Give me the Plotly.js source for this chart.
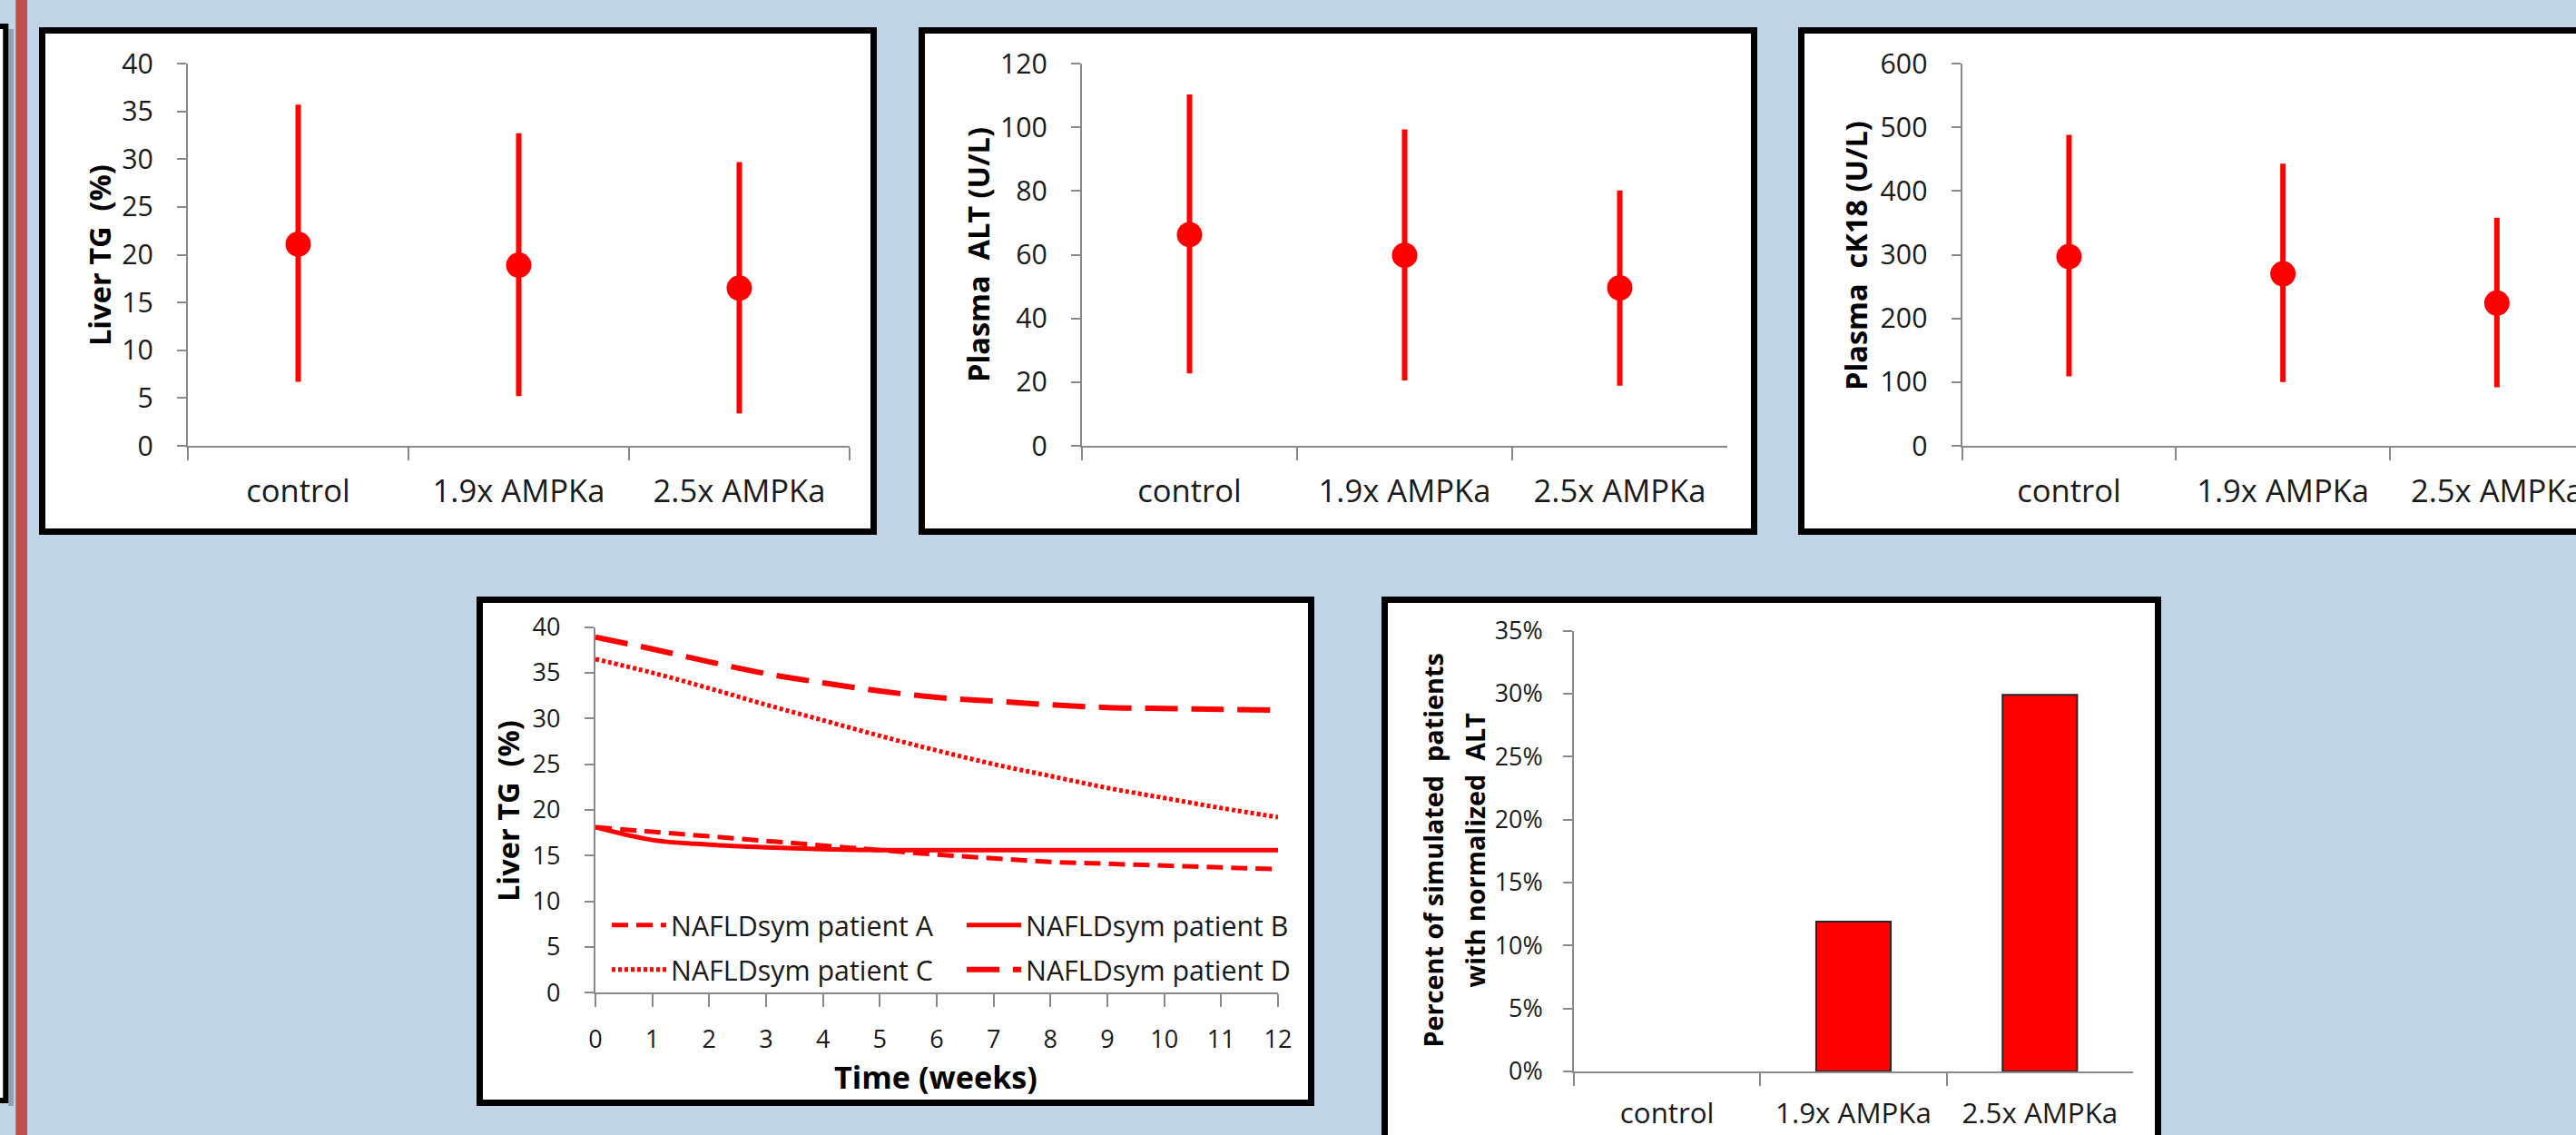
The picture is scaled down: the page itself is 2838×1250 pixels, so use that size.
<!DOCTYPE html>
<html>
<head>
<meta charset="utf-8">
<script src="https://cdn.plot.ly/plotly-3.0.1.min.js"></script>
<style>
html, body { margin: 0; padding: 0; background: #C0D4E5; overflow: hidden; }
#chart { width: 2838px; height: 1250px; }
</style>
</head>
<body>
<div id="chart"></div>
<script>
// ---------------- data ----------------
const categories = ['control', '1.9x AMPKa', '2.5x AMPKa'];

const liverTG_mean  = [21.1, 18.9, 16.5];
const liverTG_upper = [35.7, 32.7, 29.7];
const liverTG_lower = [6.7, 5.2, 3.4];

const alt_mean  = [66.3, 59.8, 49.6];
const alt_upper = [110.3, 99.3, 80.2];
const alt_lower = [22.7, 20.5, 18.9];

const ck18_mean  = [297, 270, 224];
const ck18_upper = [488, 443, 358];
const ck18_lower = [109, 100, 92];

const weeks    = [0, 1, 2, 3, 4, 5, 6, 7, 8, 9, 10, 11, 12];
const patientA = [18.1, 17.6, 17.1, 16.6, 16.1, 15.6, 15.1, 14.7, 14.3, 14.1, 13.9, 13.7, 13.5];
const patientB = [18.1, 16.7, 16.2, 15.9, 15.7, 15.6, 15.6, 15.6, 15.6, 15.6, 15.6, 15.6, 15.6];
const patientC = [36.5, 35.0, 33.3, 31.5, 29.8, 28.1, 26.5, 25.0, 23.7, 22.4, 21.3, 20.2, 19.2];
const patientD = [38.9, 37.6, 36.2, 34.9, 33.9, 33.0, 32.3, 31.9, 31.5, 31.2, 31.1, 31.0, 30.9];
const patientNames = ['NAFLDsym patient A', 'NAFLDsym patient B', 'NAFLDsym patient C', 'NAFLDsym patient D'];

const pctNormalizedALT = [0, 0.119, 0.299];

const NB = '\u00a0';
const yTitles = ['Liver TG' + NB + ' (%)', 'Plasma' + NB + ' ALT (U/L)', 'Plasma' + NB + ' cK18 (U/L)', 'Liver TG' + NB + ' (%)'];
const barTitleLines = ['Percent of simulated' + NB + ' patients', 'with normalized' + NB + ' ALT'];
const xTitle4 = 'Time (weeks)';

// ---------------- styling / geometry ----------------
const W = 2838, H = 1250;
const RED = '#FF0000';
const AX = '#8A8A8A';
const TXT = '#1A1A1A';
const FONT = '"Open Sans", "Liberation Sans", Arial, sans-serif';
const px = x => x / W;
const py = y => 1 - y / H;

// font sizes fitted to the text widths seen in the reference
const ctx = document.createElement('canvas').getContext('2d');
function textW(str, weight) { ctx.font = weight + ' 100px ' + FONT; return ctx.measureText(str).width; }
function fit(str, target, weight) { return +(100 * target / textW(str, weight || 'normal')).toFixed(1); }
const SZ = {
  cat: fit('1.9x AMPKa', 190),
  catBar: fit('1.9x AMPKa', 172),
  tick: fit('120', 52),
  tick4: fit('10', 31),
  tick5: fit('35%', 53),
  legend: fit('NAFLDsym patient A', 289),
  ytitle: fit('Plasma' + NB + ' ALT (U/L)', 281, 'bold'),
  xtitle: fit('Time (weeks)', 224, 'bold'),
  bartitle: fit('Percent of simulated' + NB + ' patients', 435, 'bold')
};

function catAxis(x0, x1, range, fontSize, anchor, standoff) {
  return {
    domain: [px(x0), Math.min(1, px(x1))], range: range, type: 'category', anchor: anchor,
    showline: true, linecolor: AX, linewidth: 2, mirror: false,
    ticks: 'outside', tickson: 'boundaries', ticklen: 14, tickwidth: 2, tickcolor: AX,
    showgrid: false, zeroline: false, fixedrange: true,
    tickfont: {family: FONT, size: fontSize, color: TXT}, ticklabelstandoff: standoff
  };
}
function valAxis(y0, y1, range, dtick, anchor, extra) {
  return Object.assign({
    domain: [py(y1), py(y0)], range: range, dtick: dtick, anchor: anchor,
    showline: true, linecolor: AX, linewidth: 2,
    ticks: 'outside', ticklen: 10, tickwidth: 2, tickcolor: AX,
    showgrid: false, zeroline: false, fixedrange: true,
    tickfont: {family: FONT, size: SZ.tick, color: TXT}, ticklabelstandoff: 20
  }, extra || {});
}

function errTrace(mean, upper, lower, xa, ya) {
  return {
    type: 'scatter', mode: 'markers', x: categories, y: mean, xaxis: xa, yaxis: ya,
    showlegend: false, hoverinfo: 'skip',
    marker: {size: 28, color: RED},
    error_y: {
      type: 'data', symmetric: false,
      array: upper.map((u, i) => u - mean[i]),
      arrayminus: lower.map((l, i) => mean[i] - l),
      color: RED, thickness: 6, width: 0
    }
  };
}

const traces = [
  errTrace(liverTG_mean, liverTG_upper, liverTG_lower, 'x', 'y'),
  errTrace(alt_mean, alt_upper, alt_lower, 'x2', 'y2'),
  errTrace(ck18_mean, ck18_upper, ck18_lower, 'x3', 'y3'),
  {type: 'scatter', mode: 'lines', x: weeks, y: patientA, xaxis: 'x4', yaxis: 'y4', name: patientNames[0],
   legend: 'legend', line: {color: RED, width: 5, dash: '18px,9px', shape: 'spline'}},
  {type: 'scatter', mode: 'lines', x: weeks, y: patientB, xaxis: 'x4', yaxis: 'y4', name: patientNames[1],
   legend: 'legend', line: {color: RED, width: 5, shape: 'spline'}},
  {type: 'scatter', mode: 'lines', x: weeks, y: patientC, xaxis: 'x4', yaxis: 'y4', name: patientNames[2],
   legend: 'legend2', line: {color: RED, width: 5, dash: '4px,3px', shape: 'spline'}},
  {type: 'scatter', mode: 'lines', x: weeks, y: patientD, xaxis: 'x4', yaxis: 'y4', name: patientNames[3],
   legend: 'legend2', line: {color: RED, width: 6, dash: '36px,15px', shape: 'spline'}},
  {type: 'bar', x: categories, y: pctNormalizedALT, xaxis: 'x5', yaxis: 'y5', showlegend: false,
   marker: {color: RED, line: {color: '#262626', width: pctNormalizedALT.map(v => v > 0 ? 2 : 0)}}}
];

function rect(x0, y0, x1, y1, fill, lineColor, lw) {
  return {type: 'rect', xref: 'paper', yref: 'paper', layer: 'below',
    x0: px(x0), x1: px(x1), y0: py(y1), y1: py(y0),
    fillcolor: fill, line: {color: lineColor || 'rgba(0,0,0,0)', width: lw || 0}};
}
const shapes = [
  rect(9.3, 32, 15, 1218, '#8FA2B3'),
  rect(-20, 29, 6.3, 1212, '#FFFFFF', '#000000', 6),
  rect(17.3, -10, 30, 1260, '#C0504D'),
  rect(46.5, 33.5, 962.5, 585.5, '#FFFFFF', '#000000', 7),
  rect(1015.5, 33.5, 1932.5, 585.5, '#FFFFFF', '#000000', 7),
  rect(1984.5, 33.5, 2901.5, 585.5, '#FFFFFF', '#000000', 7),
  rect(528.5, 660.5, 1444.5, 1214.5, '#FFFFFF', '#000000', 7),
  rect(1525.5, 660.5, 2377.5, 1300, '#FFFFFF', '#000000', 7)
];

function title(text, x, y, size, angle) {
  return {text: '<b>' + text + '</b>', xref: 'paper', yref: 'paper', x: px(x), y: py(y),
    xanchor: 'center', yanchor: 'middle', showarrow: false, textangle: angle,
    font: {family: FONT, size: size, color: '#000000'}};
}
const annotations = [
  title(yTitles[0], 109, 281, SZ.ytitle, -90),
  title(yTitles[1], 1077, 281, SZ.ytitle, -90),
  title(yTitles[2], 2044, 282, SZ.ytitle, -90),
  title(yTitles[3], 559, 893, SZ.ytitle, -90),
  title(barTitleLines[0], 1577.5, 936, SZ.bartitle, -90),
  title(barTitleLines[1], 1623.5, 936, SZ.bartitle, -90),
  title(xTitle4, 1031, 1185, SZ.xtitle, 0)
];

const legendBase = {
  orientation: 'h', xanchor: 'left', yanchor: 'middle', x: px(669),
  itemwidth: 60, entrywidth: 316, entrywidthmode: 'pixels',
  font: {family: FONT, size: SZ.legend, color: TXT},
  bgcolor: 'rgba(0,0,0,0)', borderwidth: 0, itemclick: false, itemdoubleclick: false
};

const layout = {
  width: W, height: H, autosize: false,
  margin: {l: 0, r: 0, t: 0, b: 0, pad: 0},
  paper_bgcolor: '#C0D4E5', plot_bgcolor: 'rgba(0,0,0,0)',
  showlegend: true, bargap: 0.6,
  xaxis:  catAxis(207, 936, [-0.5, 2.5], SZ.cat, 'y', 18),
  yaxis:  valAxis(70, 491, [0, 40], 5, 'x'),
  xaxis2: catAxis(1192, 1903, [-0.5, 2.5], SZ.cat, 'y2', 18),
  yaxis2: valAxis(70, 491, [0, 120], 20, 'x2'),
  xaxis3: catAxis(2161.6, 2838, [-0.5, -0.5 + (2838 - 2161.6) / 235.7], SZ.cat, 'y3', 18),
  yaxis3: valAxis(70, 491, [0, 600], 100, 'x3'),
  xaxis4: {
    domain: [px(656), px(1408)], range: [0, 12], dtick: 1, anchor: 'y4',
    showline: true, linecolor: AX, linewidth: 2, ticks: 'outside', ticklen: 14, tickwidth: 2, tickcolor: AX,
    showgrid: false, zeroline: false, fixedrange: true,
    tickfont: {family: FONT, size: SZ.tick4, color: TXT}, ticklabelstandoff: 12
  },
  yaxis4: valAxis(690.6, 1093.2, [0, 40], 5, 'x4', {ticklabelstandoff: 21, tickfont: {family: FONT, size: SZ.tick4, color: TXT}}),
  xaxis5: catAxis(1734, 2350, [-0.5, 2.5], SZ.catBar, 'y5', 17),
  yaxis5: valAxis(694.5, 1180, [0, 0.35], 0.05, 'x5', {tickformat: '.0%', ticklabelstandoff: 17, tickfont: {family: FONT, size: SZ.tick5, color: TXT}}),
  legend: Object.assign({}, legendBase, {y: py(1019)}),
  legend2: Object.assign({}, legendBase, {y: py(1068)}),
  shapes: shapes,
  annotations: annotations
};

Plotly.newPlot('chart', traces, layout, {displayModeBar: false, staticPlot: true});
</script>
</body>
</html>
